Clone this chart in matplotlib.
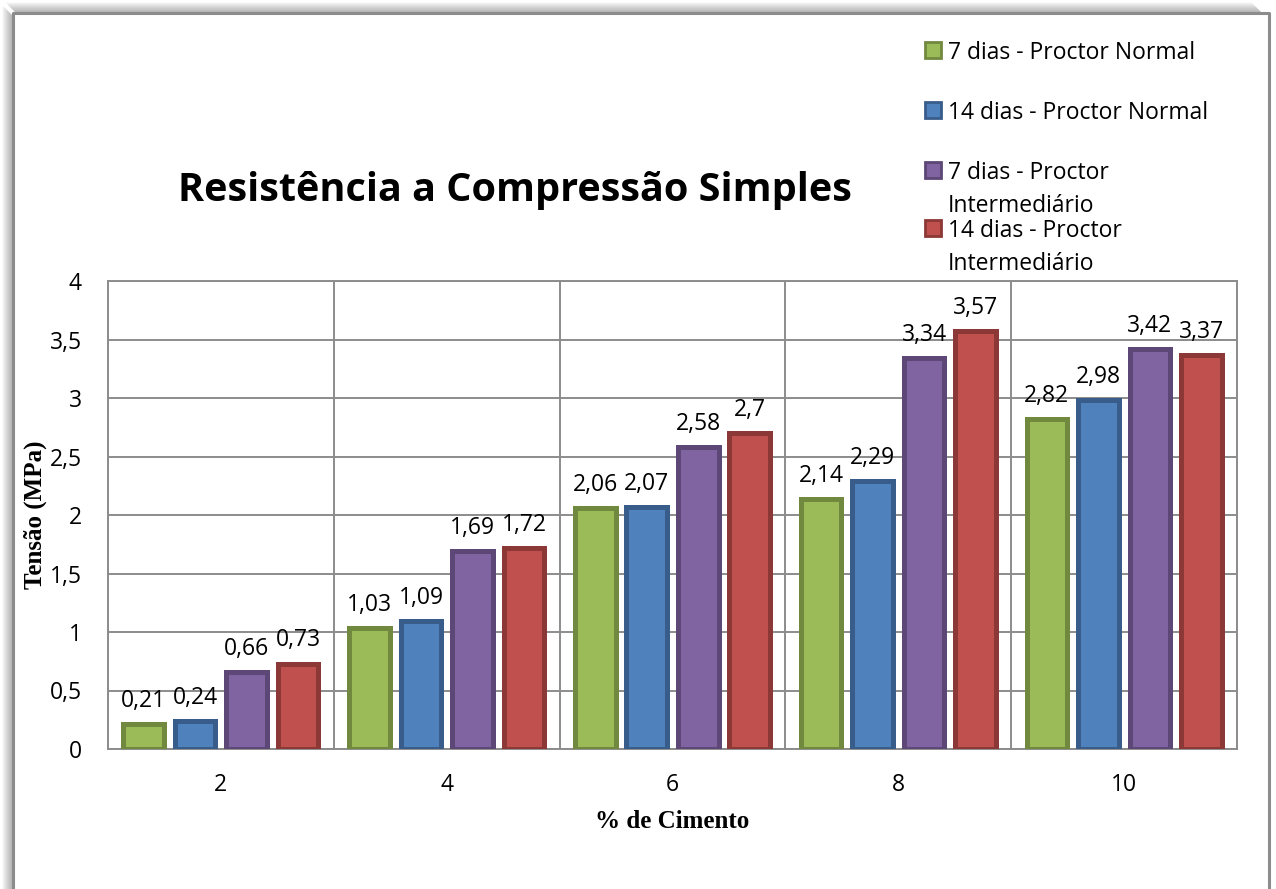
import numpy as np
import matplotlib
matplotlib.use('Agg')
import matplotlib.pyplot as plt
from matplotlib.patches import Rectangle

# Resistência à compressão simples por teor de cimento
cimento = ['2', '4', '6', '8', '10']
series = ['7 dias - Proctor Normal', '14 dias - Proctor Normal',
          '7 dias - Proctor\nIntermediário', '14 dias - Proctor\nIntermediário']
v7_normal = [0.21, 1.03, 2.06, 2.14, 2.82]
v14_normal = [0.24, 1.09, 2.07, 2.29, 2.98]
v7_inter = [0.66, 1.69, 2.58, 3.34, 3.42]
v14_inter = [0.73, 1.72, 2.70, 3.57, 3.37]
yticks = [0, 0.5, 1, 1.5, 2, 2.5, 3, 3.5, 4]

cores = ['#9BBB59', '#4F81BD', '#8064A2', '#C0504D']
bordas = ['#71893F', '#385D8A', '#5C4776', '#8C3836']

plt.rcParams['font.family'] = ['Open Sans', 'DejaVu Sans']

W, H = 1276, 889
fig = plt.figure(figsize=(W / 100, H / 100), dpi=100)

# fundo: moldura com sombra e legenda em coordenadas de pixel
bg = fig.add_axes([0, 0, 1, 1], zorder=-1)
bg.set_xlim(0, W)
bg.set_ylim(H, 0)
bg.axis('off')
for i in range(1, 11):
    a = 0.45 * (1 - i / 11)
    bg.plot([12.5 - i, 12.5 - i], [12.5 - i + 3, H], color='#7f7f7f', alpha=a, lw=1.2, solid_capstyle='butt')
    bg.plot([12.5 - i + 3, 1262 - i], [12.5 - i, 12.5 - i], color='#7f7f7f', alpha=a, lw=1.2, solid_capstyle='butt')
bg.plot([12.5, 12.5, 1268.5, 1268.5], [H + 5, 12.5, 12.5, H + 5], color='#8c8c8c', lw=2.2)

leg_y = [50, 110, 170, 228]
for lab, c, e, y in zip(series, cores, bordas, leg_y):
    bg.add_patch(Rectangle((925, y - 8), 16, 16, facecolor=c, edgecolor=e, lw=2))
    bg.text(948, y - 9, lab, fontsize=16.5, va='top', ha='left', linespacing=1.48)

bg.text(515, 190, 'Resistência a Compressão Simples', fontsize=28.5, fontweight='bold',
        ha='center', va='center')

ax = fig.add_axes([108 / W, 140 / H, 1129 / W, 468 / H])
x = np.arange(len(cimento))
largura = 0.18
passo = 0.228
dados = [v7_normal, v14_normal, v7_inter, v14_inter]
for k, (vals, c, e) in enumerate(zip(dados, cores, bordas)):
    barras = ax.bar(x + (k - 1.5) * passo, vals, largura, color=c, edgecolor=e,
                    linewidth=3.6, zorder=3)
    ax.bar_label(barras, labels=[f'{v:g}'.replace('.', ',') for v in vals],
                 padding=8, fontsize=16.5)

ax.set_xlim(-0.5, len(cimento) - 0.5)
ax.set_ylim(0, 4)
ax.set_yticks(yticks)
ax.set_yticklabels([f'{t:g}'.replace('.', ',') for t in yticks], fontsize=16.5)
ax.set_xticks(x)
ax.set_xticklabels(cimento, fontsize=16.5)
ax.set_xticks(np.arange(len(cimento) + 1) - 0.5, minor=True)
ax.tick_params(axis='both', which='both', length=0)
ax.tick_params(axis='y', pad=19)
ax.tick_params(axis='x', pad=17)
ax.grid(axis='y', color='#8c8c8c', lw=1.4, zorder=0)
ax.grid(axis='x', which='minor', color='#8c8c8c', lw=1.4, zorder=0)
ax.grid(axis='x', which='major', visible=False)
for s in ax.spines.values():
    s.set_color('#8c8c8c')
    s.set_linewidth(1.4)

ax.set_ylabel('Tensão (MPa)', fontsize=18, fontweight='bold', family='Liberation Serif', labelpad=2)
ax.set_xlabel('% de Cimento', fontsize=18, fontweight='bold', family='Liberation Serif', labelpad=10)

fig.savefig('out.png', dpi=100)
